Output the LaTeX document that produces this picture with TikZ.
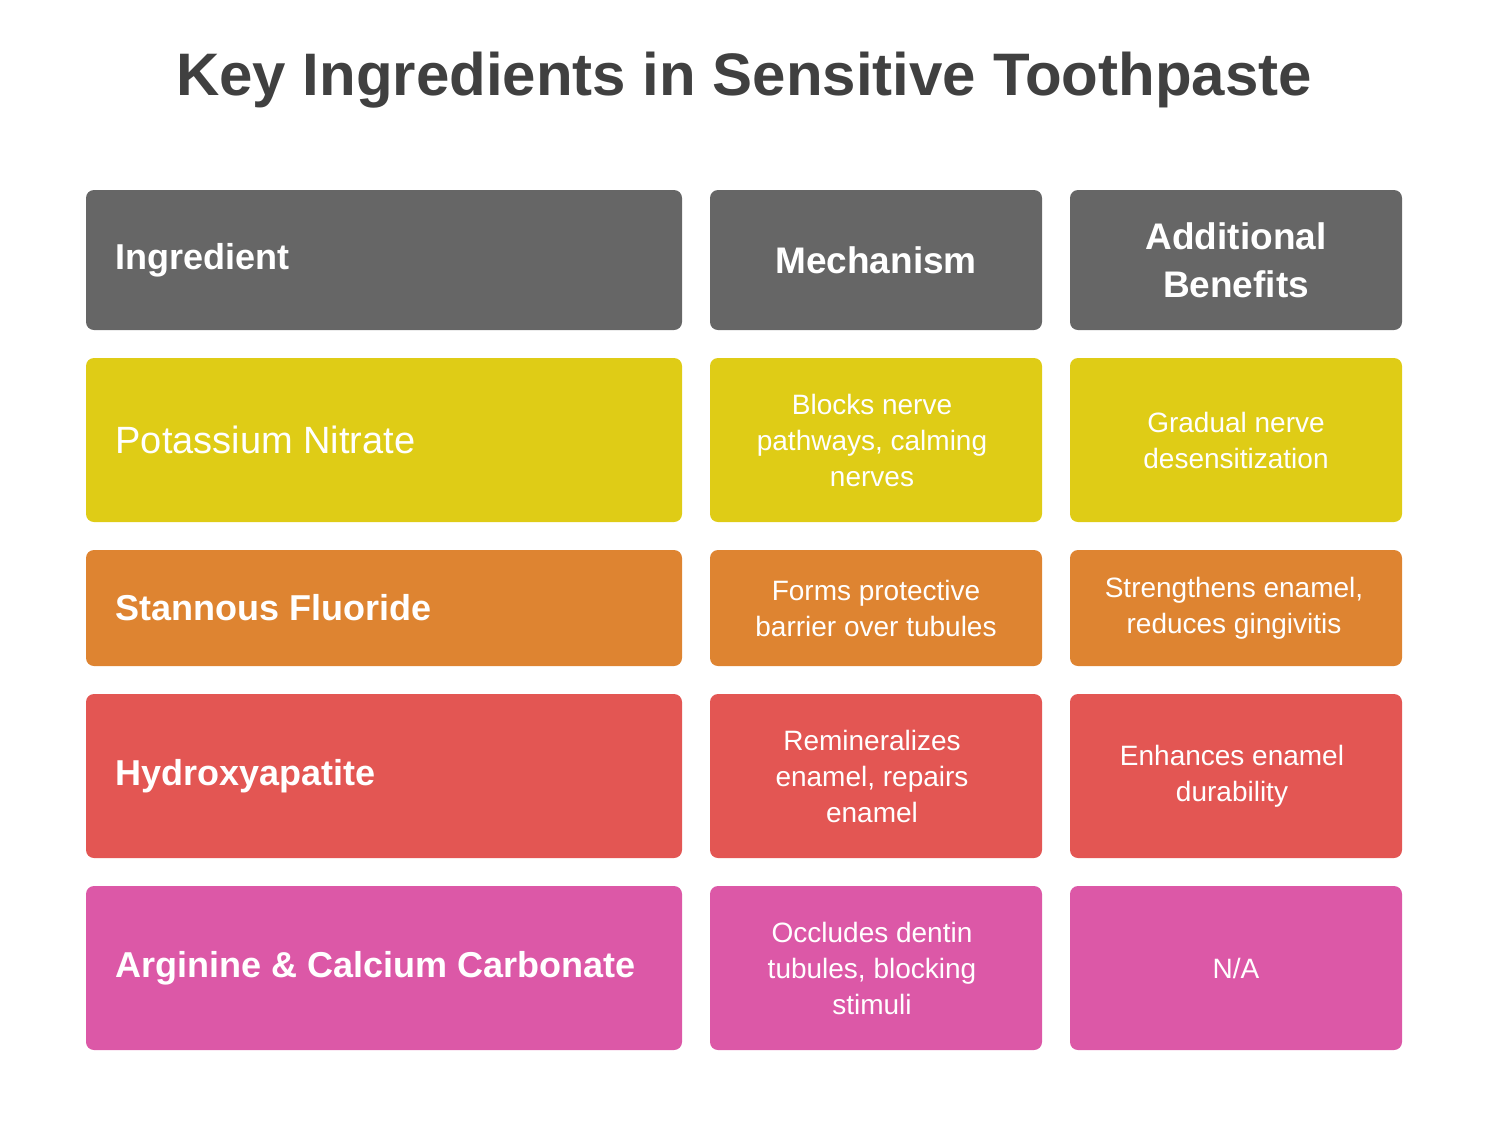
\documentclass[tikz,border=0pt]{standalone}
\usepackage{fontspec}
\setmainfont{Liberation Sans}
\definecolor{cgray}{HTML}{666666}
\definecolor{cyel}{HTML}{DFCC16}
\definecolor{cora}{HTML}{DE8431}
\definecolor{cred}{HTML}{E35653}
\definecolor{cpink}{HTML}{DC58A7}
\definecolor{ctitle}{HTML}{404040}
\begin{document}
\begin{tikzpicture}[x=1pt,y=-1pt,
  cell/.style={rounded corners=8pt,draw=none,inner sep=0pt},
  lbl/.style={text=white,align=center,font=\fontsize{28}{36}\selectfont},
  hdr/.style={text=white,align=center,font=\fontsize{37}{48}\selectfont\bfseries},
  first/.style={text=white,anchor=west,font=\fontsize{36}{44}\selectfont\bfseries}]
\useasboundingbox (0,0) rectangle (1488,1128);
\node[text=ctitle,font=\fontsize{60}{70}\selectfont\bfseries] (title) at (744,80) {Key Ingredients in Sensitive Toothpaste};
\foreach \r/\ya/\yb/\c in {h/190/330/cgray,a/358/522/cyel,b/550/666/cora,c/694/858/cred,d/886/1050/cpink}{
  \fill[cgray,fill=\c,rounded corners=8pt] (86,\ya) rectangle (682,\yb);
  \fill[fill=\c,rounded corners=8pt] (710,\ya) rectangle (1042,\yb);
  \fill[fill=\c,rounded corners=8pt] (1070,\ya) rectangle (1402,\yb);
}
\node[first] (h1) at (112,260) {Ingredient};
\node[hdr] (h2) at (876,260) {Mechanism};
\node[hdr] (h3) at (1236,260) {Additional\\Benefits};
\node[first,font=\fontsize{38}{44}\selectfont] (a1) at (112,440) {Potassium Nitrate};
\node[lbl] (a2) at (872,440) {Blocks nerve\\pathways, calming\\nerves};
\node[lbl] (a3) at (1236,440) {Gradual nerve\\desensitization};
\node[first] (b1) at (112,608) {Stannous Fluoride};
\node[lbl] (b2) at (876,608) {Forms protective\\barrier over tubules};
\node[lbl] (b3) at (1234,608) {Strengthens enamel,\\reduces gingivitis};
\node[first] (c1) at (112,776) {Hydroxyapatite};
\node[lbl] (c2) at (872,776) {Remineralizes\\enamel, repairs\\enamel};
\node[lbl] (c3) at (1232,776) {Enhances enamel\\durability};
\node[first] (d1) at (112,968) {Arginine \& Calcium Carbonate};
\node[lbl] (d2) at (872,968) {Occludes dentin\\tubules, blocking\\stimuli};
\node[lbl] (d3) at (1236,968) {N/A};
\end{tikzpicture}
\end{document}
